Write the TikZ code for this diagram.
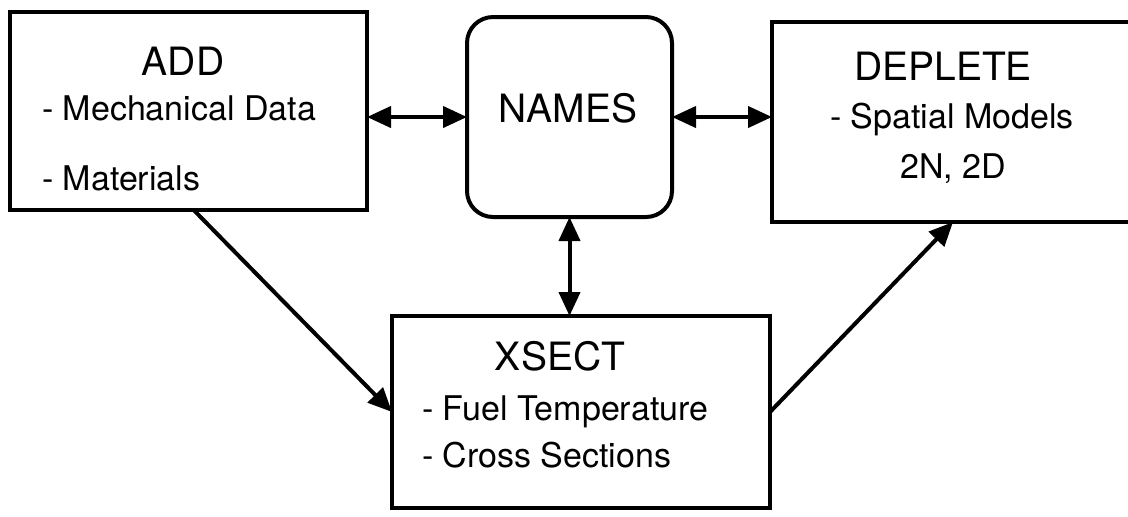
\documentclass[tikz,border=0pt]{standalone}
\usepackage{fontspec}
\setmainfont{TeX Gyre Heros}
\usetikzlibrary{arrows.meta, fit}

\begin{document}
\begin{tikzpicture}[x=0.5pt, y=-0.5pt,
    box/.style={draw=black, line width=2pt, inner sep=0pt, outer sep=0pt},
    title/.style={anchor=base, font=\fontsize{19.5}{22}\selectfont},
    item/.style={anchor=base west, font=\fontsize{17}{20}\selectfont},
    link/.style={line width=2pt, -{Triangle[length=12pt, width=10.5pt]}},
    biLink/.style={line width=2pt, {Triangle[length=12pt, width=10.5pt]}-{Triangle[length=12pt, width=10.5pt]}}]

    % Fix the page size
    \useasboundingbox (0,0) rectangle (1128,516);
    \clip (0,0) rectangle (1128,516);

    % Define the box corners
    \coordinate (addTL) at (10,12);
    \coordinate (addBR) at (367,210);
    \coordinate (namesTL) at (467,17);
    \coordinate (namesBR) at (672,217);
    \coordinate (depleteTL) at (772,22);
    \coordinate (depleteBR) at (1134,222);
    \coordinate (xsectTL) at (392,316);
    \coordinate (xsectBR) at (770,508);

    % Draw the boxes
    \node[box, fit=(addTL) (addBR)] (add) {};
    \node[box, rounded corners=13pt, fit=(namesTL) (namesBR)] (names) {};
    \node[box, fit=(depleteTL) (depleteBR)] (deplete) {};
    \node[box, fit=(xsectTL) (xsectBR)] (xsect) {};

    % ADD texts
    \node[title] (addTitle) at (183,75) {ADD};
    \node[item] (addMech) at (35,120) {- Mechanical Data};
    \node[item] (addMat) at (35,190) {- Materials};

    % NAMES text
    \node[title] (namesTitle) at (568,122) {NAMES};

    % DEPLETE texts
    \node[title] (depleteTitle) at (943,80) {DEPLETE};
    \node[item] (depleteSpat) at (823,128) {- Spatial Models};
    \node[title, font=\fontsize{17}{20}\selectfont] (depleteDim) at (953,178) {2N, 2D};

    % XSECT texts
    \node[title] (xsectTitle) at (560,370) {XSECT};
    \node[item] (xsectFuel) at (415,420) {- Fuel Temperature};
    \node[item] (xsectCross) at (415,467) {- Cross Sections};

    % Draw the two-way links
    \draw[biLink] (names.west -| add.east) -- (names.west);
    \draw[biLink] (names.east) -- (names.east -| deplete.west);
    \draw[biLink] (names.south) -- (names.south |- xsect.north);

    % Draw the one-way links
    \draw[link] (add.-87) -- (xsect.west);
    \draw[link] (xsect.east) -- (deplete.south);

\end{tikzpicture}
\end{document}
